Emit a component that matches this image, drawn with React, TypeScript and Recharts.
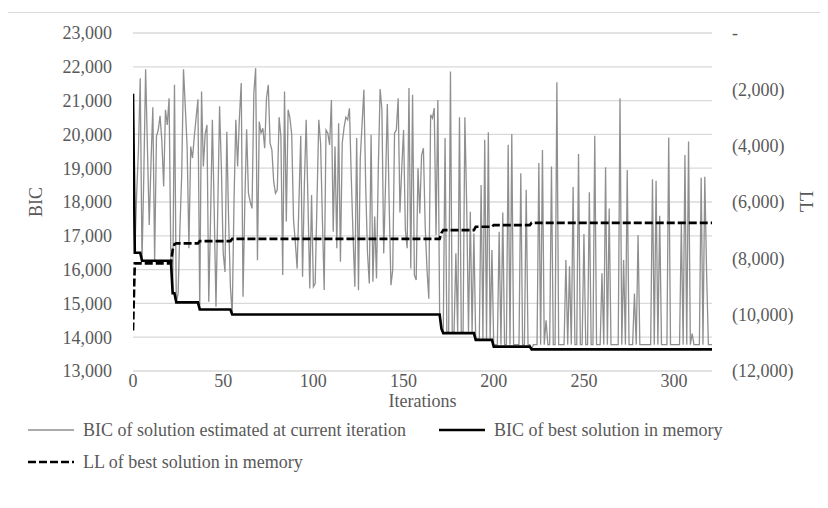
import { LineChart, Line, XAxis, YAxis, CartesianGrid } from "recharts";

// BIC of the solution estimated at each iteration (index = iteration)
const currentBic = [
  21200, 16500, 18200, 19500, 21660, 16260, 18800, 21930, 19600, 17320,
  19200, 20800, 16280, 19940, 20130, 20550, 19800, 18460, 20730, 20280,
  21070, 16280, 15300, 21470, 15030, 15290, 17200, 18800, 21930, 20800,
  19640, 16630, 19640, 19300, 19940, 20500, 21040, 14820, 21270, 19050,
  20000, 20280, 15050, 17500, 20430, 17800, 14900, 17800, 20830, 19000,
  16500, 15930, 20080, 17500, 15500, 14670, 18000, 20430, 19050, 20500,
  21520, 15200, 18000, 20150, 18260, 18000, 17810, 21220, 21960, 16280,
  20380, 20040, 20180, 19590, 21070, 21470, 19740, 19540, 18600, 18260,
  18360, 20510, 19940, 15840, 21270, 17420, 20730, 20480, 20000, 17470,
  16800, 16030, 18000, 19960, 15790, 18500, 20430, 18000, 15440, 18210,
  15490, 15590, 18000, 20430, 19740, 17500, 15400, 20130, 20040, 19690,
  21020, 17120, 19640, 16630, 20330, 16230, 19740, 20200, 20510, 20430,
  20770, 18750, 17000, 15490, 19890, 15390, 19290, 20300, 21320, 18500,
  16500, 15590, 19990, 15640, 17570, 15740, 19000, 21340, 20730, 16480,
  18500, 20900, 18000, 15540, 15990, 20040, 20130, 21070, 17690, 19000,
  20130, 17170, 16630, 21370, 16030, 21170, 15840, 15690, 19000, 17660,
  19390, 19590, 17270, 16000, 15140, 20580, 20480, 20780, 17020, 21020,
  14700, 14250, 14120, 19890, 14160, 14160, 21860, 14160, 14160, 16480,
  14160, 20510, 14160, 14160, 20510, 17910, 14160, 17710, 14160, 17070,
  13920, 13950, 13950, 18500, 13950, 19840, 13950, 20060, 13950, 16580,
  13720, 13780, 13780, 17120, 13780, 17690, 13780, 13780, 19690, 13780,
  20010, 13780, 13780, 13780, 13780, 18850, 13780, 13780, 18360, 13780,
  13780, 13640, 13780, 13780, 13780, 19150, 13780, 19540, 13780, 14500,
  13780, 13780, 19050, 13780, 13780, 21540, 13780, 13780, 13780, 13780,
  16280, 13780, 16100, 13780, 18440, 13780, 13780, 19420, 13780, 13780,
  17050, 13780, 13780, 18290, 13780, 13780, 19960, 13780, 13780, 13780,
  15890, 13780, 19030, 13780, 17810, 13780, 13780, 13780, 13780, 13780,
  21070, 13780, 16280, 13780, 18950, 13780, 13780, 13780, 15290, 13780,
  17020, 13780, 13780, 13780, 13780, 13780, 13780, 13780, 18670, 13780,
  18630, 13780, 17590, 13780, 13780, 13780, 13780, 19910, 13780, 13780,
  13780, 13780, 13780, 13780, 17370, 13780, 19390, 13780, 19790, 13780,
  14110, 13780, 13780, 13780, 13780, 18720, 13780, 18750, 15930, 13780,
  13780, 13780,
];

// best solution in memory: vertices of the step line
const bestBicIters = [0, 1, 4, 5, 21, 22, 23, 24, 36, 37, 54, 55, 170, 171, 172, 189, 190, 199, 200, 220, 221, 321];
const bestBicValues = [21200, 16500, 16500, 16260, 16260, 15300, 15300, 15030, 15030, 14820, 14820, 14670, 14670, 14250, 14120, 14120, 13920, 13920, 13720, 13720, 13640, 13640];

const bestLlIters = [0, 1, 21, 22, 23, 24, 36, 37, 54, 55, 170, 171, 172, 189, 190, 199, 200, 220, 221, 321];
const bestLlValues = [-10560, -8180, -8180, -7700, -7500, -7470, -7470, -7390, -7390, -7310, -7310, -7100, -7000, -7000, -6880, -6880, -6820, -6820, -6740, -6740];

const bicTicks = [13000, 14000, 15000, 16000, 17000, 18000, 19000, 20000, 21000, 22000, 23000];
const llTicks = [-12000, -10000, -8000, -6000, -4000, -2000, 0];
const iterTicks = [0, 50, 100, 150, 200, 250, 300];

const currentData = currentBic.map((v, i) => ({ iter: i, bic: v }));
const bestBicData = bestBicIters.map((it, i) => ({ iter: it, best: bestBicValues[i] }));
const bestLlData = bestLlIters.map((it, i) => ({ iter: it, ll: bestLlValues[i] }));

const FONT = '"Liberation Serif", "Times New Roman", serif';
const TXT = "#595959";
const tickStyle = { fontFamily: FONT, fontSize: 18, fill: TXT };

const fmtBic = (v: number) => v.toLocaleString("en-US");
const fmtLl = (v: number) => (v === 0 ? "-" : `(${Math.abs(v).toLocaleString("en-US")})`);

type LegendItem = { label: string; color: string; width: number; dash?: string; x: number; tx: number };

function LegendRow(props: { items: LegendItem[]; y: number }) {
  return (
    <>
      {props.items.map((it) => (
        <div key={it.label} style={{ position: "absolute", left: it.x, top: props.y - 12, height: 24, display: "flex", alignItems: "center" }}>
          <svg width={46} height={10} style={{ marginRight: it.tx - it.x - 46 }}>
            <line x1={0} y1={5} x2={46} y2={5} stroke={it.color} strokeWidth={it.width} strokeDasharray={it.dash} />
          </svg>
          <span style={{ fontFamily: FONT, fontSize: 18, color: TXT, whiteSpace: "nowrap" }}>{it.label}</span>
        </div>
      ))}
    </>
  );
}

export default function App() {
  return (
    <div
      style={{
        position: "relative",
        left: -1,
        top: 4,
        width: 816,
        height: 492,
        border: "1px solid #d9d9d9",
        background: "#fff",
      }}
    >
      <LineChart width={816} height={492} margin={{ top: 20, right: 0, left: 0, bottom: 0 }}>
        <CartesianGrid yAxisId="left" vertical={false} stroke="#d9d9d9" strokeWidth={1.3} />
        <XAxis
          type="number"
          dataKey="iter"
          domain={[0, 321]}
          ticks={iterTicks}
          allowDataOverflow
          height={134}
          axisLine={false}
          tickLine={false}
          tickSize={0}
          tickMargin={3}
          tick={tickStyle}
          label={{ value: "Iterations", position: "insideTop", offset: 23, style: { fontFamily: FONT, fontSize: 18, fill: TXT } }}
        />
        <YAxis
          yAxisId="left"
          domain={[13000, 23000]}
          ticks={bicTicks}
          width={125}
          axisLine={false}
          tickLine={false}
          tickMargin={15}
          tick={tickStyle}
          tickFormatter={fmtBic}
          label={{ value: "BIC", angle: -90, position: "insideLeft", offset: 28, style: { fontFamily: FONT, fontSize: 18, fill: TXT, textAnchor: "middle" } }}
        />
        <YAxis
          yAxisId="right"
          orientation="right"
          domain={[-12000, 0]}
          ticks={llTicks}
          width={112}
          axisLine={false}
          tickLine={false}
          tickMargin={14}
          tick={{ ...tickStyle, textAnchor: "start" }}
          tickFormatter={fmtLl}
          label={{ value: "LL", angle: 90, position: "insideRight", offset: 18, style: { fontFamily: FONT, fontSize: 18, fill: TXT, textAnchor: "middle" } }}
        />
        <Line
          yAxisId="left"
          data={currentData}
          dataKey="bic"
          type="linear"
          stroke="#8f8f8f"
          strokeWidth={1.3}
          dot={false}
          isAnimationActive={false}
        />
        <Line
          yAxisId="left"
          data={bestBicData}
          dataKey="best"
          type="linear"
          stroke="#000"
          strokeWidth={2.6}
          dot={false}
          isAnimationActive={false}
        />
        <Line
          yAxisId="right"
          data={bestLlData}
          dataKey="ll"
          type="linear"
          stroke="#000"
          strokeWidth={2.6}
          strokeDasharray="8 3"
          dot={false}
          isAnimationActive={false}
        />
      </LineChart>
      <LegendRow
        y={417}
        items={[
          { label: "BIC of solution estimated at current iteration", color: "#8f8f8f", width: 1.5, x: 20, tx: 75 },
          { label: "BIC of best solution in memory", color: "#000", width: 2.6, x: 431, tx: 486 },
        ]}
      />
      <LegendRow
        y={449}
        items={[{ label: "LL of best solution in memory", color: "#000", width: 2.6, dash: "8 3", x: 20, tx: 75 }]}
      />
    </div>
  );
}
